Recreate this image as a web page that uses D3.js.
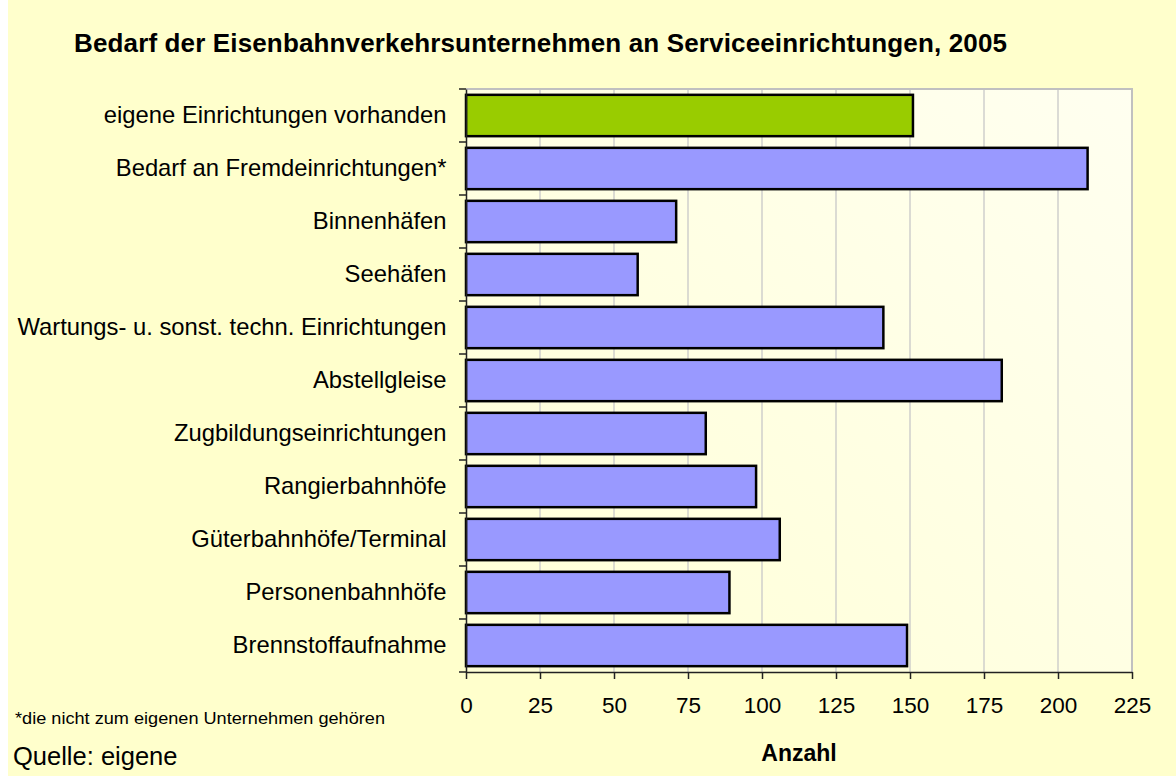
<!DOCTYPE html>
<html>
<head>
<meta charset="utf-8">
<script src="https://cdn.jsdelivr.net/npm/d3@7"></script>
<style>
    html, body { margin: 0; padding: 0; background: #ffffff; }
    svg { display: block; font-family: "Liberation Sans", Arial, sans-serif; }
    .axis path, .axis line { stroke: #222; }
    .axis text { fill: #000; }
</style>
</head>
<body>
<svg id="chart" width="1176" height="776"></svg>
<script>
    // categories, top to bottom as in the chart
    var categories = [
        'eigene Einrichtungen vorhanden',
        'Bedarf an Fremdeinrichtungen*',
        'Binnenhäfen',
        'Seehäfen',
        'Wartungs- u. sonst. techn. Einrichtungen',
        'Abstellgleise',
        'Zugbildungseinrichtungen',
        'Rangierbahnhöfe',
        'Güterbahnhöfe/Terminal',
        'Personenbahnhöfe',
        'Brennstoffaufnahme'
    ];
    var counts = [151, 210, 71, 58, 141, 181, 81, 98, 106, 89, 149];
    // first bar is highlighted
    var highlighted = ['eigene Einrichtungen vorhanden'];
    var xTicks = [0, 25, 50, 75, 100, 125, 150, 175, 200, 225];

    var title = 'Bedarf der Eisenbahnverkehrsunternehmen an Serviceeinrichtungen, 2005';
    var axisTitle = 'Anzahl';
    var footnote = '*die nicht zum eigenen Unternehmen gehören';
    var source = 'Quelle: eigene';

    var plot = {left: 466, right: 1132, top: 89, bottom: 672};

    var svg = d3.select('#chart');

    var defs = svg.append('defs');
    var grad = defs.append('linearGradient')
        .attr('id', 'plotFill')
        .attr('x1', '1').attr('y1', '0')
        .attr('x2', '0').attr('y2', '1');
    grad.append('stop').attr('offset', '0%').attr('stop-color', '#fffff0');
    grad.append('stop').attr('offset', '100%').attr('stop-color', '#ffffd6');

    // chart background
    svg.append('rect')
        .attr('x', 8).attr('y', 0)
        .attr('width', 1168).attr('height', 776)
        .attr('fill', '#ffffcc');

    var x = d3.scaleLinear()
        .domain([0, 225])
        .range([plot.left, plot.right]);

    var y = d3.scaleBand()
        .domain(categories)
        .range([plot.top, plot.bottom])
        .paddingInner(0.22)
        .paddingOuter(0.11);

    // band edges for the category tick marks
    var yEdges = d3.scaleBand()
        .domain(categories)
        .range([plot.top, plot.bottom]);

    svg.append('rect')
        .attr('x', plot.left).attr('y', plot.top)
        .attr('width', plot.right - plot.left)
        .attr('height', plot.bottom - plot.top)
        .attr('fill', 'url(#plotFill)');

    // vertical gridlines
    svg.append('g')
        .selectAll('line')
        .data(xTicks.filter(function(t) { return t > 0; }))
        .enter().append('line')
        .attr('x1', function(d) { return x(d); })
        .attr('x2', function(d) { return x(d); })
        .attr('y1', plot.top)
        .attr('y2', plot.bottom)
        .attr('stroke', '#c8c8c8')
        .attr('stroke-width', 1.3);

    // plot frame, top and right
    svg.append('path')
        .attr('d', 'M' + plot.left + ',' + plot.top + 'H' + plot.right + 'V' + plot.bottom)
        .attr('fill', 'none')
        .attr('stroke', '#c0c0c0')
        .attr('stroke-width', 2);

    // bars
    svg.append('g')
        .selectAll('rect')
        .data(categories)
        .enter().append('rect')
        .attr('x', x(0))
        .attr('y', function(d) { return y(d); })
        .attr('width', function(d, i) { return x(counts[i]) - x(0); })
        .attr('height', y.bandwidth())
        .attr('fill', function(d) { return highlighted.indexOf(d) >= 0 ? '#99cc00' : '#9999ff'; })
        .attr('stroke', '#000')
        .attr('stroke-width', 2.5);

    // category axis
    var yAxis = svg.append('g')
        .attr('class', 'axis')
        .attr('transform', 'translate(' + plot.left + ',0)')
        .call(d3.axisLeft(y).tickSize(0).tickPadding(19.5));
    yAxis.select('.domain').attr('stroke-width', 1.5);
    yAxis.selectAll('text')
        .style('font-size', '23.8px')
        .attr('dy', '0.3em');

    var edges = categories.map(function(d) { return yEdges(d); });
    edges.push(plot.bottom);
    yAxis.selectAll('.edge')
        .data(edges)
        .enter().append('line')
        .attr('class', 'edge')
        .attr('x1', -7).attr('x2', 0)
        .attr('y1', function(d) { return d; })
        .attr('y2', function(d) { return d; })
        .attr('stroke', '#222')
        .attr('stroke-width', 1.5);

    // value axis
    var xAxis = svg.append('g')
        .attr('class', 'axis')
        .attr('transform', 'translate(0,' + plot.bottom + ')')
        .call(d3.axisBottom(x).tickValues(xTicks).tickSize(7).tickSizeOuter(0).tickPadding(18));
    xAxis.selectAll('path, line').attr('stroke-width', 1.5);
    xAxis.selectAll('text').style('font-size', '22.5px');

    // titles and notes
    svg.append('text')
        .attr('x', 74).attr('y', 52)
        .attr('textLength', 933)
        .attr('lengthAdjust', 'spacing')
        .style('font-size', '26px')
        .style('font-weight', 'bold')
        .text(title);

    svg.append('text')
        .attr('x', (plot.left + plot.right) / 2).attr('y', 761)
        .attr('text-anchor', 'middle')
        .style('font-size', '23px')
        .style('font-weight', 'bold')
        .text(axisTitle);

    svg.append('text')
        .attr('x', 15).attr('y', 724)
        .attr('textLength', 370)
        .attr('lengthAdjust', 'spacingAndGlyphs')
        .style('font-size', '17px')
        .text(footnote);

    svg.append('text')
        .attr('x', 13).attr('y', 765)
        .style('font-size', '25.5px')
        .text(source);
</script>
</body>
</html>
